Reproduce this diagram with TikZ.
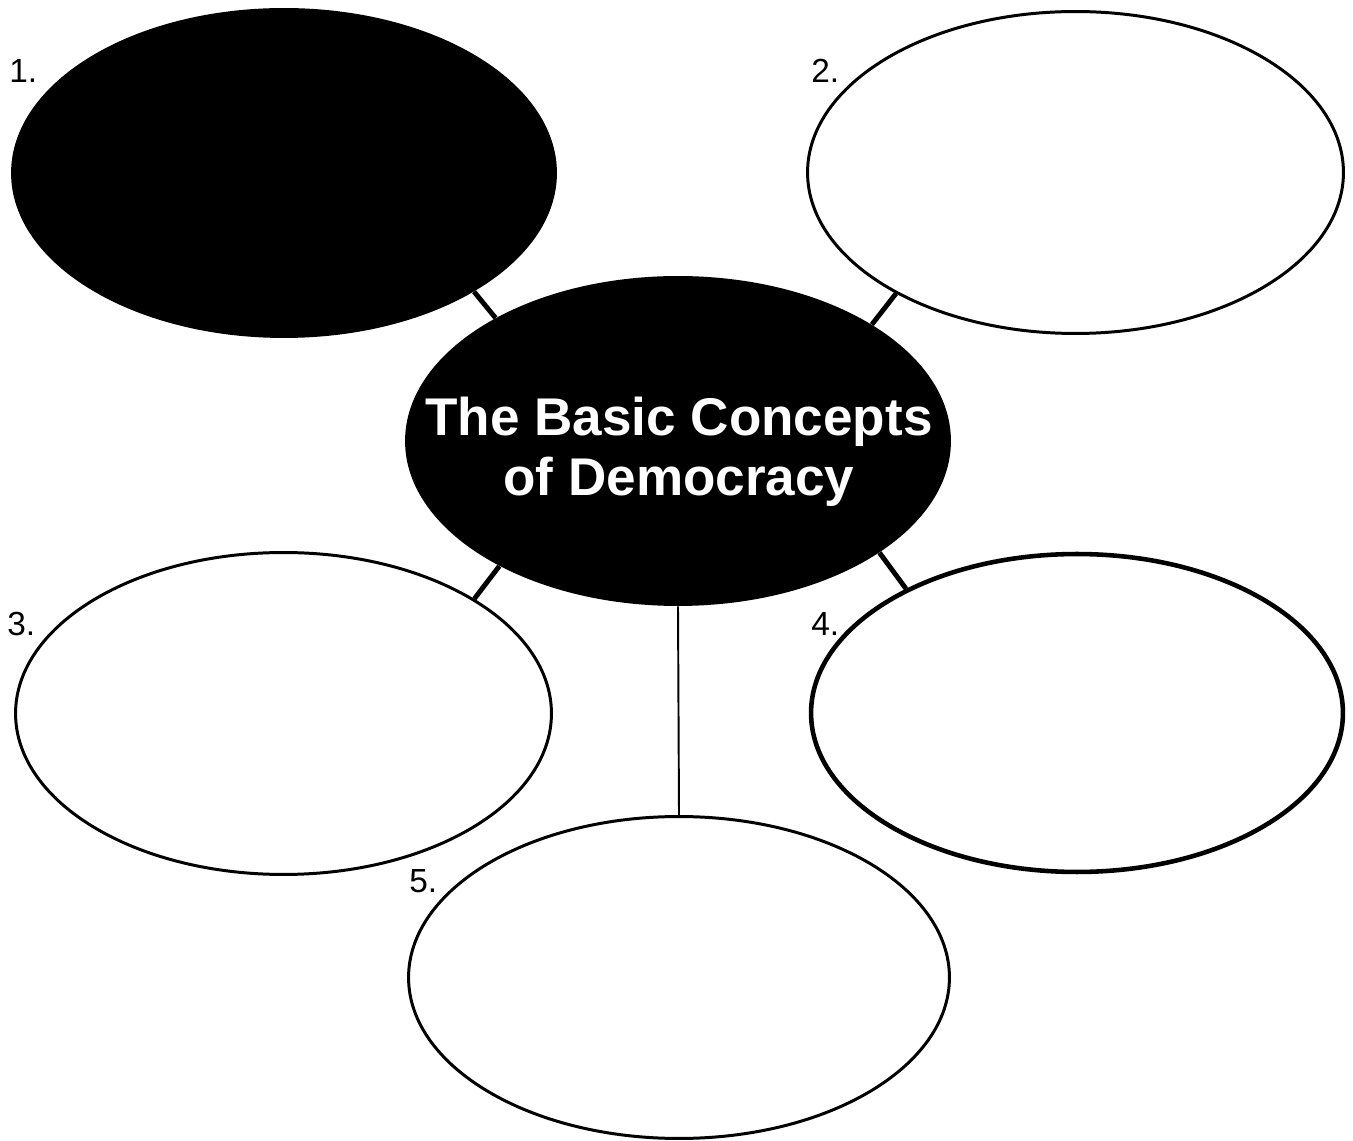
\documentclass[tikz,border=0pt]{standalone}
\usepackage{fontspec}
\setmainfont{Liberation Sans}
\usetikzlibrary{shapes.geometric}
\begin{document}
\begin{tikzpicture}[x=0.02cm, y=-0.02cm,
  bubble/.style={ellipse, draw, line width=1.7pt, minimum width=10.72cm, minimum height=6.44cm, inner sep=0pt},
  num/.style={anchor=base west, inner sep=0pt, font=\fontsize{19}{22}\selectfont},
  stem/.style={line width=2.8pt}]
\useasboundingbox (0,0) rectangle (1353,1141);
\node[ellipse, fill, inner sep=0pt, minimum width=10.92cm, minimum height=6.6cm] (hub) at (678,441){};
\node[text=white, align=center, inner sep=0pt, font=\bfseries\fontsize{30.2}{34}\selectfont] (title) at (679,452){The Basic Concepts\\of Democracy};
\node[ellipse, fill, inner sep=0pt, minimum width=10.92cm, minimum height=6.6cm] (con1) at (284,173){};
\node[bubble] (con2) at (1075.5,172.5){};
\node[bubble] (con3) at (283.5,713.5){};
\node[bubble, line width=2.6pt, minimum width=10.64cm, minimum height=6.36cm] (con4) at (1077,713){};
\node[bubble, minimum width=10.82cm] (con5) at (679,977.5){};
\node[num] (lab1) at (9,83){1.};
\node[num] (lab2) at (811,83){2.};
\node[num] (lab3) at (7,636){3.};
\node[num] (lab4) at (811,636){4.};
\node[num] (lab5) at (409,892){5.};
\draw[stem] (con1.-32) -- (hub.146);
\draw[stem] (con2.214) -- (hub.31);
\draw[stem] (con3.31) -- (hub.215);
\draw[stem] (con4.144) -- (hub.-29);
\draw[line width=1.1pt] (hub.south) -- (con5.north);
\end{tikzpicture}
\end{document}
